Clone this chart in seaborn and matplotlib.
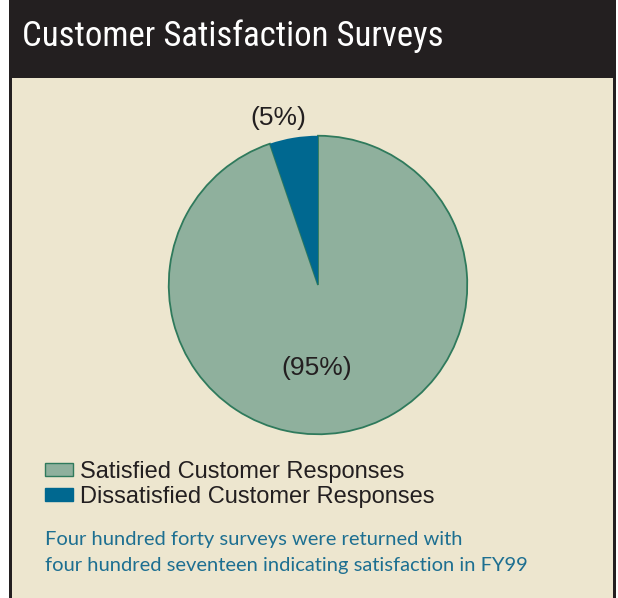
import matplotlib
matplotlib.use("Agg")
import matplotlib.pyplot as plt
from matplotlib.patches import Rectangle, Patch
import seaborn as sns

# ---- data ----
categories = ["Dissatisfied Customer Responses", "Satisfied Customer Responses"]
responses = [23, 417]
pct_labels = ["(5%)", "(95%)"]
legend_order = ["Satisfied Customer Responses", "Dissatisfied Customer Responses"]
title = "Customer Satisfaction Surveys"
note_lines = ["Four hundred forty surveys were returned with",
              "four hundred seventeen indicating satisfaction in FY99"]

sns.set_style("white")
plt.rcParams['font.family'] = ['Liberation Sans', 'DejaVu Sans']

W, H = 618, 598
DPI = 100
fig = plt.figure(figsize=(W / DPI, H / DPI), dpi=DPI)
fig.patch.set_facecolor("white")

def fx(x):
    return x / W

def fy(y):
    return 1 - y / H

cream = "#ede6cf"
dark = "#231f20"
colors = {"Satisfied Customer Responses": "#8fb09d",
          "Dissatisfied Customer Responses": "#006890"}
edge_green = "#2f7a5c"

# background frame
fig.patches.append(Rectangle((fx(9), 0), fx(616 - 9), 1, transform=fig.transFigure,
                             facecolor=dark, edgecolor="none", zorder=-2))
fig.patches.append(Rectangle((fx(12), 0), fx(613 - 12), fy(78), transform=fig.transFigure,
                             facecolor=cream, edgecolor="none", zorder=-1))

# title
fig.text(fx(22), fy(36), title, color="white", fontsize=25,
         family=['Roboto Condensed', 'Liberation Sans Narrow', 'DejaVu Sans'],
         va="center", ha="left")

# pie
cx, cy, r = 318, 285, 150
ax = fig.add_axes([fx(cx - r), fy(cy + r), fx(2 * r), (2 * r) / H])
ax.set_zorder(2)
ax.set_facecolor("none")
ax.patch.set_alpha(0)
wedges, _ = ax.pie(responses, colors=[colors[c] for c in categories],
                   startangle=90, counterclock=True, radius=1,
                   wedgeprops=dict(linewidth=0))
wedges[1].set_edgecolor(edge_green)
wedges[1].set_linewidth(1.3)
wedges[0].set_zorder(3)
ax.set_xlim(-1.005, 1.005)
ax.set_ylim(-1.005, 1.005)
ax.axis("off")

# percentage labels
fig.text(fx(278), fy(118), pct_labels[0], fontsize=19, color="#231f20",
         ha="center", va="center", zorder=5)
fig.text(fx(317), fy(368), pct_labels[1], fontsize=19, color="#231f20",
         ha="center", va="center", zorder=5)

# legend
handles = [Patch(facecolor=colors[c],
                 edgecolor=edge_green if c.startswith("Satisfied") else colors[c],
                 linewidth=1) for c in legend_order]
leg = fig.legend(handles, legend_order, loc="upper left",
                 bbox_to_anchor=(fx(45), fy(461)), frameon=False,
                 fontsize=17, handlelength=1.2, handleheight=0.42,
                 handletextpad=0.3, labelspacing=0.12, borderpad=0, borderaxespad=0)
leg.set_zorder(5)
for t in leg.get_texts():
    t.set_color("#231f20")

# footnote
for i, line in enumerate(note_lines):
    fig.text(fx(45), fy(540 + i * 26), line, fontsize=14.5, color="#1d6f91",
             family=['Lato', 'DejaVu Sans'], ha="left", va="center", zorder=5)

fig.savefig("out.png", dpi=DPI)
